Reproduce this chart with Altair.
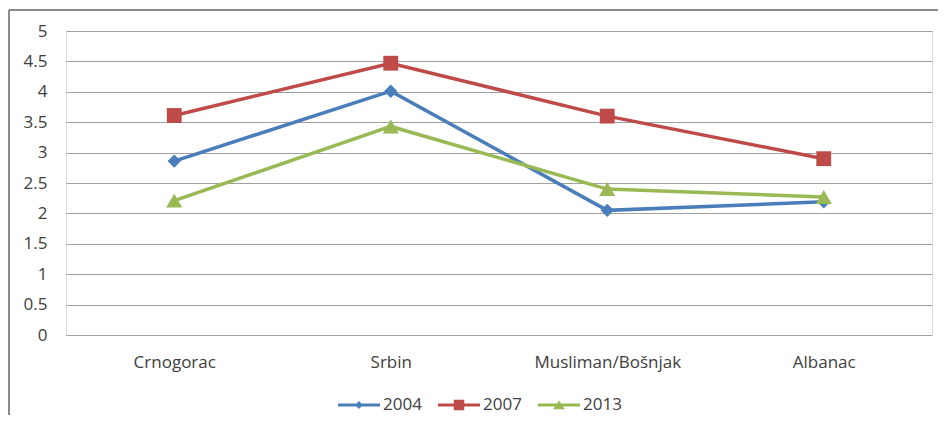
import altair as alt
import pandas as pd

categories = ["Crnogorac", "Srbin", "Musliman/Bošnjak", "Albanac"]
years = ["2004", "2007", "2013"]
v2004 = [2.86, 4.01, 2.05, 2.19]
v2007 = [3.61, 4.47, 3.60, 2.90]
v2013 = [2.21, 3.43, 2.40, 2.27]
y_ticks = [0, 0.5, 1, 1.5, 2, 2.5, 3, 3.5, 4, 4.5, 5]

colors = ["#4a7ebb", "#be4b48", "#98b954"]
marker_shapes = ["diamond", "square", "triangle-up"]
legend_paths = [
    "M-1,-0.07H1V0.07H-1Z M0,-0.19L0.19,0L0,0.19L-0.19,0Z",
    "M-1,-0.07H1V0.07H-1Z M-0.25,-0.25H0.25V0.25H-0.25Z",
    "M-1,-0.07H1V0.07H-1Z M0,-0.21L0.28,0.2H-0.28Z",
]
marker_sizes = [180, 260, 280]

rows = []
for yr, vals in zip(years, [v2004, v2007, v2013]):
    for c, v in zip(categories, vals):
        rows.append({"cat": c, "year": yr, "v": v})
df = pd.DataFrame(rows)

FONT = "Open Sans"
TXT = "#404040"
FS = 17

x = alt.X("cat:N", sort=categories, title=None,
          scale=alt.Scale(type="point", padding=0.5),
          axis=alt.Axis(domain=False, ticks=False, tickSize=0, labelPadding=19,
                        labelAngle=0, labelFont=FONT, labelFontSize=FS,
                        labelColor=TXT, grid=False))
y = alt.Y("v:Q", title=None, scale=alt.Scale(domain=[0, 5], nice=False),
          axis=alt.Axis(values=y_ticks, format="~g", domain=False, ticks=False,
                        tickSize=0, labelPadding=19, labelFont=FONT,
                        labelFontSize=FS, labelColor=TXT, grid=True,
                        gridColor="#a0a0a0", gridWidth=1))
color_scale = alt.Scale(domain=years, range=colors)

base = alt.Chart(df)

lines = base.mark_line(strokeWidth=3.5).encode(
    x=x, y=y, color=alt.Color("year:N", scale=color_scale, legend=None),
    detail="year:N")

points = base.mark_point(filled=True, opacity=1).encode(
    x=x, y=y,
    color=alt.Color("year:N", scale=color_scale, legend=None),
    shape=alt.Shape("year:N", scale=alt.Scale(domain=years, range=marker_shapes), legend=None),
    size=alt.Size("year:N", scale=alt.Scale(domain=years, range=marker_sizes), legend=None),
)

legend_layer = base.transform_filter("false").mark_point(filled=True, opacity=1).encode(
    x=x, y=y,
    color=alt.Color("year:N", scale=color_scale, legend=None),
    shape=alt.Shape("year:N", scale=alt.Scale(domain=years, range=legend_paths),
                    legend=alt.Legend(orient="none", legendX=272, legendY=353,
                                      direction="horizontal", title=None,
                                      symbolSize=1764, symbolStrokeWidth=0,
                                      symbolFillColor={"expr": "scale('color', datum.value)"},
                                      symbolOpacity=1,
                                      labelFont=FONT, labelFontSize=FS,
                                      labelColor=TXT, columnPadding=16,
                                      labelOffset=3, padding=0)),
)

border_data = alt.Data(values=[{"a": 1}])
border_left = alt.Chart(border_data).mark_rule(color="#8a8a8a", strokeWidth=2).encode(
    x=alt.value(-57), y=alt.value(-21), y2=alt.value(420))
border_top = alt.Chart(border_data).mark_rule(color="#8a8a8a", strokeWidth=2).encode(
    x=alt.value(-57), x2=alt.value(950), y=alt.value(-21))

chart = alt.layer(lines, points, legend_layer, border_left, border_top).resolve_scale(
    shape="independent"
).properties(
    width=866, height=304,
    autosize=alt.AutoSizeParams(type="none"),
    padding={"left": 58, "top": 23, "right": 6, "bottom": 80},
).configure_view(strokeWidth=0).configure(background="white")

chart.save("out.html", embed_options={"renderer": "svg", "actions": False})
